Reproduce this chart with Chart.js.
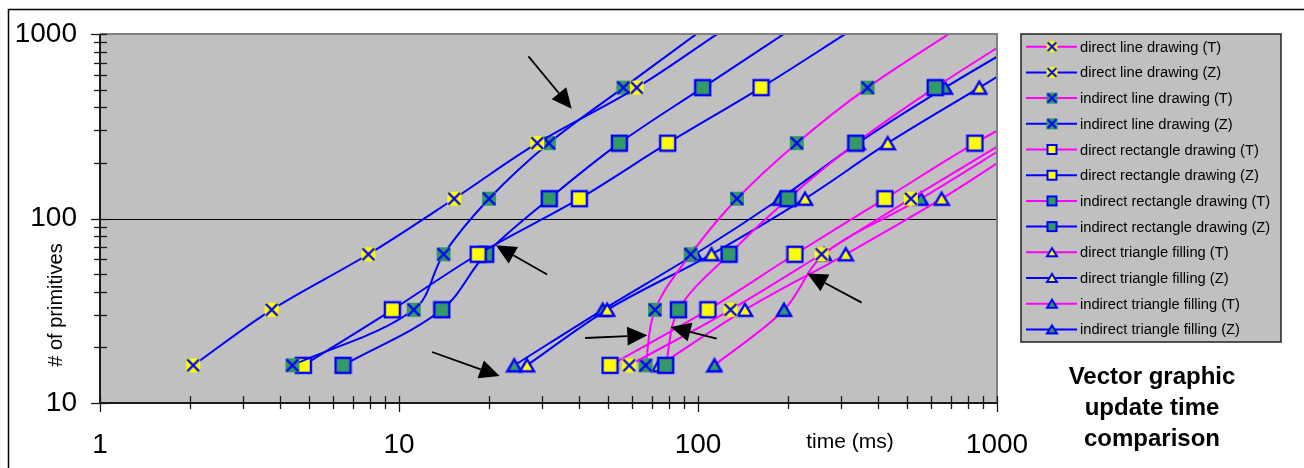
<!DOCTYPE html>
<html>
<head>
<meta charset="utf-8">
<title>Vector graphic update time comparison</title>
<script src="https://cdn.jsdelivr.net/npm/chart.js@4.4.1/dist/chart.umd.min.js"></script>
<style>
  body { margin: 0; background: #ffffff; }
  #chart { display: block; }
</style>
</head>
<body>
<canvas id="chart" width="1304" height="468"></canvas>
<script>
// number of primitives drawn per measurement (y values)
const primitiveCounts = [16, 32, 64, 128, 256, 512, 1024];

// update time in ms for each primitive count (last ones run off the chart)
const directLineT = [58.9, 128.5, 259, 515, 1047];
const directLineZ = [2.05, 3.75, 7.9, 15.3, 29, 62.4, 118.5];
const indirectLineT = [66.8, 71.8, 94.5, 135, 214, 369, 705];
const indirectLineZ = [4.4, 11.2, 14.1, 20.0, 31.7, 56.3, 100.8];
const directRectT = [50.8, 108, 211, 422, 844, 1850];
const directRectZ = [4.79, 9.5, 18.4, 40.1, 79.2, 162.5, 318];
const indirectRectT = [78, 86, 127, 200, 337, 621, 1213];
const indirectRectZ = [6.5, 13.9, 19.5, 31.8, 54.6, 103.7, 198];
const directTriT = [74.3, 143.6, 312, 653, 1265];
const directTriZ = [26.8, 49.7, 111, 228, 431, 873, 1767];
const indirectTriT = [113.5, 194, 264, 556, 1114];
const indirectTriZ = [24.3, 48, 97.7, 188, 342, 670, 1383];

const seriesLabels = [
    'direct line drawing (T)', 'direct line drawing (Z)',
    'indirect line drawing (T)', 'indirect line drawing (Z)',
    'direct rectangle drawing (T)', 'direct rectangle drawing (Z)',
    'indirect rectangle drawing (T)', 'indirect rectangle drawing (Z)',
    'direct triangle filling (T)', 'direct triangle filling (Z)',
    'indirect triangle filling (T)', 'indirect triangle filling (Z)'
];

const xTicks = [1, 2, 3, 4, 5, 6, 7, 8, 9, 10, 20, 30, 40, 50, 60, 70, 80, 90, 100, 200, 300, 400, 500, 600, 700, 800, 900, 1000];
const yTicks = [10, 20, 30, 40, 50, 60, 70, 80, 90, 100, 200, 300, 400, 500, 600, 700, 800, 900, 1000];
const majorTicks = [1, 10, 100, 1000];

// annotation arrows, in data units: [time, primitives]
const arrowTails = [[27.1, 757], [31.3, 49.7], [12.9, 18.9], [41.9, 22.5], [115.5, 22.3], [352.8, 35.0]];
const arrowHeads = [[37.8, 394], [21.1, 71.6], [21.7, 14.0], [67.7, 23.3], [81.0, 25.8], [232, 50.3]];

const titleLines = ['Vector graphic', 'update time', 'comparison'];

const FONT = '"Liberation Sans", Arial, sans-serif';
const BLUE = '#0000ff';
const MAGENTA = '#ff00ff';
const YELLOW = '#ffff00';
const GREEN = '#339966';

function makeMarker(shape, fill, size) {
    const c = document.createElement('canvas');
    c.width = size + 4;
    c.height = size + 4;
    const ctx = c.getContext('2d');
    const m = 2;
    ctx.lineWidth = size > 11 ? 2.4 : 2;
    ctx.strokeStyle = BLUE;
    ctx.fillStyle = fill;
    if (shape === 'cross') {
        ctx.fillRect(m, m, size, size);
        ctx.beginPath();
        ctx.moveTo(m + 1, m + 1);
        ctx.lineTo(m + size - 1, m + size - 1);
        ctx.moveTo(m + size - 1, m + 1);
        ctx.lineTo(m + 1, m + size - 1);
        ctx.stroke();
    } else if (shape === 'square') {
        ctx.fillRect(m, m, size, size);
        ctx.strokeRect(m, m, size, size);
    } else {
        ctx.beginPath();
        ctx.moveTo(m + size / 2, m + 1);
        ctx.lineTo(m + size, m + size - 1);
        ctx.lineTo(m, m + size - 1);
        ctx.closePath();
        ctx.fill();
        ctx.stroke();
    }
    return c;
}

const markerKinds = [
    ['cross', YELLOW], ['cross', YELLOW], ['cross', GREEN], ['cross', GREEN],
    ['square', YELLOW], ['square', YELLOW], ['square', GREEN], ['square', GREEN],
    ['tri', YELLOW], ['tri', YELLOW], ['tri', GREEN], ['tri', GREEN]
];
const bigSizes = { cross: 14, square: 15, tri: 14 };
const smallSizes = { cross: 11, square: 9, tri: 10 };
const plotMarkers = markerKinds.map(function(k) { return makeMarker(k[0], k[1], bigSizes[k[0]]); });
const legendMarkers = markerKinds.map(function(k) { return makeMarker(k[0], k[1], smallSizes[k[0]]); });

const seriesTimes = [directLineT, directLineZ, indirectLineT, indirectLineZ,
    directRectT, directRectZ, indirectRectT, indirectRectZ,
    directTriT, directTriZ, indirectTriT, indirectTriZ];

function buildDataset(i) {
    const times = seriesTimes[i];
    return {
        label: seriesLabels[i],
        data: times.map(function(t, j) { return { x: t, y: primitiveCounts[j] }; }),
        borderColor: i % 2 === 0 ? MAGENTA : BLUE,
        borderWidth: 2,
        tension: 0.35,
        fill: false,
        clip: 0,
        pointStyle: plotMarkers[i],
        pointRadius: function(ctx) {
            const p = ctx.raw;
            if (!p || p.x > 1000 || p.y > 1000) return 0;
            return 7;
        },
        pointHoverRadius: 7
    };
}

const datasets = seriesLabels.map(function(label, i) { return buildDataset(i); });

const decorations = {
    id: 'decorations',
    beforeDraw: function(chart) {
        const ctx = chart.ctx;
        const a = chart.chartArea;
        ctx.save();
        // outer frame
        ctx.strokeStyle = '#000';
        ctx.lineWidth = 1.5;
        ctx.beginPath();
        ctx.moveTo(8.5, 468);
        ctx.lineTo(8.5, 9.5);
        ctx.lineTo(1304, 9.5);
        ctx.stroke();
        // plot background
        ctx.fillStyle = '#c0c0c0';
        ctx.fillRect(a.left, a.top, a.right - a.left, a.bottom - a.top);
        // gridline at 100
        const gy = Math.round(chart.scales.y.getPixelForValue(100)) + 0.5;
        ctx.strokeStyle = '#000';
        ctx.lineWidth = 1;
        ctx.beginPath();
        ctx.moveTo(a.left, gy);
        ctx.lineTo(a.right, gy);
        ctx.stroke();
        ctx.restore();
    },
    afterDatasetsDraw: function(chart) {
        const ctx = chart.ctx;
        const a = chart.chartArea;
        const xs = chart.scales.x;
        const ys = chart.scales.y;
        ctx.save();
        // plot border
        ctx.lineWidth = 2;
        ctx.strokeStyle = '#808080';
        ctx.beginPath();
        ctx.moveTo(a.left, a.top);
        ctx.lineTo(a.right, a.top);
        ctx.lineTo(a.right, a.bottom);
        ctx.stroke();
        ctx.strokeStyle = '#1a1a1a';
        ctx.beginPath();
        ctx.moveTo(a.left, a.top);
        ctx.lineTo(a.left, a.bottom);
        ctx.lineTo(a.right + 1, a.bottom);
        ctx.stroke();
        // ticks cross the axes
        ctx.lineWidth = 1.3;
        xTicks.forEach(function(v) {
            const px = Math.round(xs.getPixelForValue(v)) + 0.5;
            const out = majorTicks.includes(v) ? 9 : 6;
            ctx.beginPath();
            ctx.moveTo(px, a.bottom - 7);
            ctx.lineTo(px, a.bottom + out);
            ctx.stroke();
        });
        yTicks.forEach(function(v) {
            const py = Math.round(ys.getPixelForValue(v)) + 0.5;
            const out = majorTicks.includes(v) ? 9 : 6;
            ctx.beginPath();
            ctx.moveTo(a.left - out, py);
            ctx.lineTo(a.left + 7, py);
            ctx.stroke();
        });
        // arrows
        ctx.strokeStyle = '#000';
        ctx.fillStyle = '#000';
        ctx.lineWidth = 1.8;
        arrowTails.forEach(function(t, i) {
            const h = arrowHeads[i];
            const x0 = xs.getPixelForValue(t[0]);
            const y0 = ys.getPixelForValue(t[1]);
            const x1 = xs.getPixelForValue(h[0]);
            const y1 = ys.getPixelForValue(h[1]);
            const len = Math.hypot(x1 - x0, y1 - y0);
            const ux = (x1 - x0) / len;
            const uy = (y1 - y0) / len;
            const bx = x1 - ux * 20;
            const by = y1 - uy * 20;
            ctx.beginPath();
            ctx.moveTo(x0, y0);
            ctx.lineTo(bx, by);
            ctx.stroke();
            ctx.beginPath();
            ctx.moveTo(x1, y1);
            ctx.lineTo(bx - uy * 9.5, by + ux * 9.5);
            ctx.lineTo(bx + uy * 9.5, by - ux * 9.5);
            ctx.closePath();
            ctx.fill();
        });
        ctx.restore();
    },
    afterDraw: function(chart) {
        const ctx = chart.ctx;
        ctx.save();
        ctx.fillStyle = '#000';
        // axis titles
        ctx.font = '21px ' + FONT;
        ctx.textAlign = 'center';
        ctx.textBaseline = 'middle';
        ctx.fillText('time (ms)', 850, 442);
        ctx.save();
        ctx.translate(56, 305);
        ctx.rotate(-Math.PI / 2);
        ctx.font = '20px ' + FONT;
        ctx.fillText('# of primitives', 0, 0);
        ctx.restore();
        // legend box
        ctx.fillStyle = '#c0c0c0';
        ctx.fillRect(1021, 34, 260, 308);
        ctx.strokeStyle = '#222';
        ctx.lineWidth = 1.5;
        ctx.strokeRect(1021, 34, 260, 308);
        ctx.font = '14.7px ' + FONT;
        ctx.textAlign = 'left';
        chart.data.datasets.forEach(function(ds, i) {
            const cy = 46.7 + i * 25.7;
            ctx.strokeStyle = ds.borderColor;
            ctx.lineWidth = 2;
            ctx.beginPath();
            ctx.moveTo(1026, cy);
            ctx.lineTo(1077, cy);
            ctx.stroke();
            const m = legendMarkers[i];
            ctx.drawImage(m, 1052 - m.width / 2, cy - m.height / 2);
            ctx.fillStyle = '#000';
            ctx.fillText(ds.label, 1080, cy + 1);
        });
        // chart title
        ctx.font = 'bold 24px ' + FONT;
        ctx.textAlign = 'center';
        titleLines.forEach(function(line, i) {
            ctx.fillText(line, 1152, 377 + i * 31);
        });
        ctx.restore();
    }
};

const chart = new Chart(document.getElementById('chart'), {
    type: 'line',
    data: { datasets: datasets },
    options: {
        responsive: false,
        animation: false,
        events: [],
        layout: { padding: { left: 0, top: 34, right: 307, bottom: 0 } },
        elements: { line: { capBezierPoints: false } },
        plugins: { legend: { display: false }, tooltip: { enabled: false } },
        scales: {
            x: {
                type: 'logarithmic',
                min: 1,
                max: 1000,
                grid: { display: false, drawTicks: false },
                border: { display: false },
                afterBuildTicks: function(scale) {
                    scale.ticks = xTicks.map(function(v) { return { value: v }; });
                },
                afterFit: function(scale) {
                    scale.height = 65;
                    scale.paddingLeft = 0;
                    scale.paddingRight = 0;
                },
                ticks: {
                    autoSkip: false,
                    maxRotation: 0,
                    padding: 25,
                    color: '#000',
                    font: { family: FONT, size: 28 },
                    callback: function(value) { return majorTicks.includes(value) ? String(value) : ''; }
                }
            },
            y: {
                type: 'logarithmic',
                min: 10,
                max: 1000,
                grid: { display: false, drawTicks: false },
                border: { display: false },
                afterBuildTicks: function(scale) {
                    scale.ticks = yTicks.map(function(v) { return { value: v }; });
                },
                afterFit: function(scale) {
                    scale.width = 100;
                    scale.paddingTop = 0;
                    scale.paddingBottom = 0;
                },
                ticks: {
                    autoSkip: false,
                    padding: 23,
                    color: '#000',
                    font: { family: FONT, size: 28 },
                    callback: function(value) { return majorTicks.includes(value) ? String(value) : ''; }
                }
            }
        }
    },
    plugins: [decorations]
});
</script>
</body>
</html>
